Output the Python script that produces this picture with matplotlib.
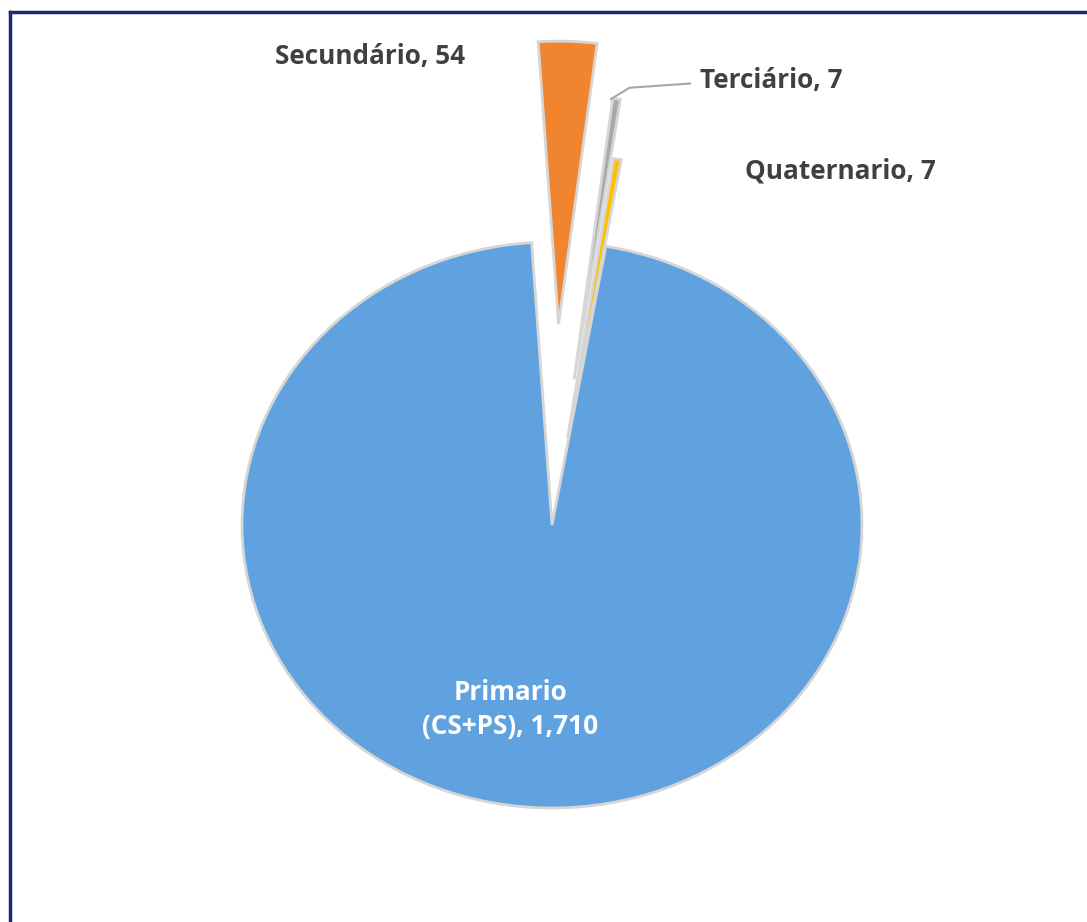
import matplotlib.pyplot as plt
from matplotlib.lines import Line2D

# data
labels = ['Primario\n(CS+PS)', 'Secundário', 'Terciário', 'Quaternario']
values = [1710, 54, 7, 7]
colors = ['#5FA2DF', '#F0842F', '#A9A9A9', '#FFC000']
explode = [0.0, 0.71, 0.52, 0.31]

W, H = 1087, 922
cx, cy, rx, ry = 552, 525, 310, 283   # pie centre / radii in pixels
xlim = (-1.72, 1.72)
ylim = (-1.3, 1.85)

fig = plt.figure(figsize=(W / 100, H / 100), dpi=100)
left = cx + xlim[0] * rx
right = cx + xlim[1] * rx
top = cy - ylim[1] * ry
bottom = cy - ylim[0] * ry
ax = fig.add_axes([left / W, 1 - bottom / H, (right - left) / W, (bottom - top) / H])

wedges, _ = ax.pie(values, colors=colors, explode=explode, startangle=80,
                   counterclock=False,
                   wedgeprops=dict(edgecolor='#D6D6D6', linewidth=2.0))
ax.set_aspect('auto')
ax.set_xlim(*xlim)
ax.set_ylim(*ylim)
ax.axis('off')

plt.rcParams['font.family'] = ['Open Sans', 'DejaVu Sans']
txt = '#404040'
fs = 18.8

ax.text(-0.135, -0.652, f'{labels[0]}, {values[0]:,}', color='white', fontsize=fs,
        fontweight='bold', ha='center', va='center', linespacing=1.3)
ax.text(-0.587, 1.654, f'{labels[1]}, {values[1]}', color=txt, fontsize=fs,
        fontweight='bold', ha='center', va='center')
ax.text(0.477, 1.572, f'{labels[2]}, {values[2]}', color=txt, fontsize=fs,
        fontweight='bold', ha='left', va='center')
ax.text(0.623, 1.251, f'{labels[3]}, {values[3]}', color=txt, fontsize=fs,
        fontweight='bold', ha='left', va='center')

# leader line for Terciário
ax.plot([0.19, 0.25, 0.445], [1.505, 1.545, 1.56], color='#A6A6A6', lw=1.5)

# frame lines (top and left only)
fig.add_artist(Line2D([10 / W, 10 / W], [0, 1 - 12 / H], color='#1B2A6B', lw=2.5,
                      transform=fig.transFigure))
fig.add_artist(Line2D([10 / W, 1], [1 - 12 / H, 1 - 12 / H], color='#1B2A6B', lw=2.5,
                      transform=fig.transFigure))

fig.savefig('out.png', dpi=100)
